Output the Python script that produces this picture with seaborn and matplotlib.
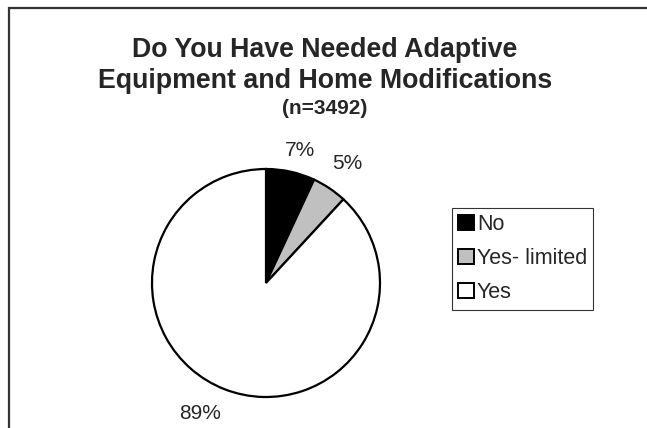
import matplotlib
matplotlib.use("Agg")
import matplotlib.pyplot as plt
import seaborn as sns
import numpy as np
from matplotlib.patches import Rectangle

categories = ["No", "Yes- limited", "Yes"]
values = [7, 5, 89]
pct_labels = ["7%", "5%", "89%"]
colors = ["#000000", "#C0C0C0", "#FFFFFF"]

sns.set_style("white")
plt.rcParams['font.family'] = ['Liberation Sans', 'DejaVu Sans']

W, H = 647, 428
fig = plt.figure(figsize=(W/100, H/100), dpi=100)
fig.patch.set_facecolor("white")

# pie axes
cx, cy, r = 266, 283, 114
ax = fig.add_axes([(cx - r)/W, (H - cy - r)/H, 2*r/W, 2*r/H])
wedges, _ = ax.pie(values, colors=colors, startangle=90, counterclock=False,
                   wedgeprops=dict(edgecolor="black", linewidth=1.6),
                   radius=1)
ax.set_xlim(-1.0, 1.0)
ax.set_ylim(-1.0, 1.0)
ax.set_aspect("auto")
ax.axis("off")

# percentage labels placed outside slices
total = sum(values)
cum = 0
dists = [1.20, 1.27, 1.28]
offsets = [2.0, 0.5, 5.5]
for v, lab, d, off in zip(values, pct_labels, dists, offsets):
    mid = (cum + v/2) / total * 360 + off
    cum += v
    ang = np.deg2rad(90 - mid)
    ax.text(d*np.cos(ang), d*np.sin(ang), lab, ha="center", va="center",
            fontsize=15, clip_on=False)

# title
tx = 325/W
fig.text(tx, 1 - 57/H, "Do You Have Needed Adaptive", ha="center", va="baseline",
         fontsize=19.3, fontweight="bold")
fig.text(tx, 1 - 88/H, "Equipment and Home Modifications", ha="center", va="baseline",
         fontsize=19.3, fontweight="bold")
fig.text(tx, 1 - 114/H, "(n=3492)", ha="center", va="baseline",
         fontsize=15, fontweight="bold")

# legend
leg = fig.legend(wedges, categories, loc="upper left",
                 bbox_to_anchor=(452/W, 1 - 208/H), frameon=True, fancybox=False,
                 shadow=False, fontsize=15.5, handlelength=0.7, handleheight=0.7,
                 handletextpad=0.15, labelspacing=0.6, borderpad=0.3,
                 borderaxespad=0)
leg.get_frame().set_edgecolor("black")
leg.get_frame().set_linewidth(0.8)
for h in leg.legend_handles:
    h.set_linewidth(1.4)
    h.set_edgecolor("black")

# outer border (left and top edges visible)
fig.patches.append(Rectangle((9/W, -0.05), 1.0, 1 - 8/H + 0.05,
                             transform=fig.transFigure, fill=False,
                             edgecolor="#333333", linewidth=1.6))

fig.savefig("out.png", dpi=100, facecolor="white")
